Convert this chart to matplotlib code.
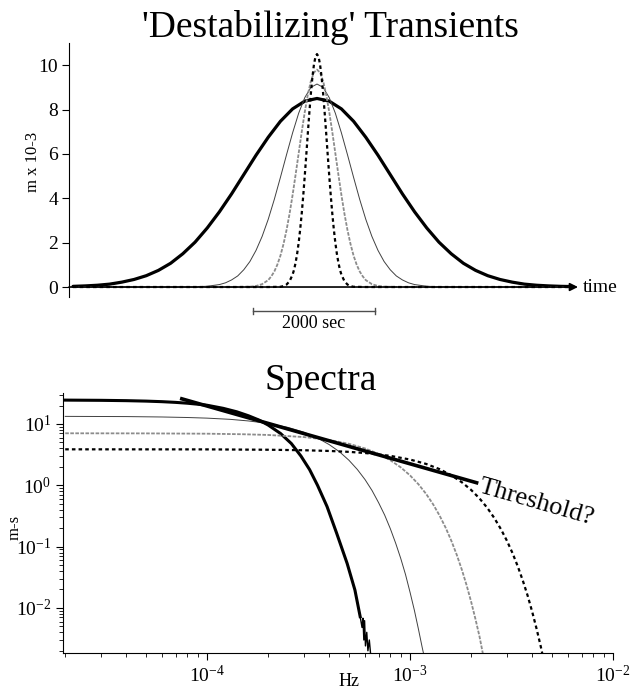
import matplotlib
matplotlib.use("Agg")
import matplotlib.pyplot as plt

plt.rcParams['font.family'] = ['Liberation Serif', 'DejaVu Serif']
plt.rcParams['mathtext.default'] = 'regular'

# --- transients (time in s, centred on the peak; m x 10^-3) ---
T_THICK = [-4000, -3800, -3600, -3400, -3200, -3000, -2800, -2600, -2400, -2200, -2000,
           -1800, -1600, -1400, -1200, -1000, -800, -600, -400, -200, 0,
           200, 400, 600, 800, 1000, 1200, 1400, 1600, 1800, 2000,
           2200, 2400, 2600, 2800, 3000, 3200, 3400, 3600, 3800, 4000, 4200]
M_THICK = [0.03, 0.05, 0.08, 0.13, 0.22, 0.34, 0.51, 0.75, 1.07, 1.50, 2.02,
           2.66, 3.39, 4.20, 5.07, 5.94, 6.75, 7.47, 8.03, 8.38, 8.50,
           8.38, 8.03, 7.47, 6.75, 5.94, 5.07, 4.20, 3.39, 2.66, 2.02,
           1.50, 1.07, 0.75, 0.51, 0.34, 0.22, 0.13, 0.08, 0.05, 0.03, 0.02]

T_THIN = [-4000, -2400, -2000, -1800, -1600, -1500, -1400, -1300, -1200, -1100, -1000,
          -900, -800, -700, -600, -500, -400, -300, -200, -100, 0,
          100, 200, 300, 400, 500, 600, 700, 800, 900, 1000,
          1100, 1200, 1300, 1400, 1500, 1600, 1800, 2000, 2400, 4200]
M_THIN = [0.0, 0.0, 0.01, 0.035, 0.11, 0.19, 0.32, 0.50, 0.78, 1.15, 1.65,
          2.28, 3.05, 3.95, 4.94, 5.96, 6.95, 7.84, 8.54, 9.00, 9.15,
          9.00, 8.54, 7.84, 6.95, 5.96, 4.94, 3.95, 3.05, 2.28, 1.65,
          1.15, 0.78, 0.50, 0.32, 0.19, 0.11, 0.035, 0.01, 0.0, 0.0]

T_GRAY = [-4000, -1400, -1100, -1000, -900, -800, -750, -700, -650, -600, -550,
          -500, -450, -400, -350, -300, -250, -200, -150, -100, -50, 0,
          50, 100, 150, 200, 250, 300, 350, 400, 450, 500,
          550, 600, 650, 700, 750, 800, 900, 1000, 1100, 1400, 4200]
M_GRAY = [0.0, 0.0, 0.015, 0.045, 0.13, 0.31, 0.48, 0.70, 1.01, 1.41, 1.93,
          2.56, 3.30, 4.15, 5.08, 6.04, 7.00, 7.90, 8.68, 9.29, 9.67, 9.80,
          9.67, 9.29, 8.68, 7.90, 7.00, 6.04, 5.08, 4.15, 3.30, 2.56,
          1.93, 1.41, 1.01, 0.70, 0.48, 0.31, 0.13, 0.045, 0.015, 0.0, 0.0]

T_DASH = [-4000, -800, -600, -550, -500, -450, -400, -375, -350, -325, -300, -275,
          -250, -225, -200, -175, -150, -125, -100, -75, -50, -25, 0,
          25, 50, 75, 100, 125, 150, 175, 200, 225, 250,
          275, 300, 325, 350, 375, 400, 450, 500, 550, 600, 800, 4200]
M_DASH = [0.0, 0.0, 0.01, 0.04, 0.11, 0.26, 0.56, 0.79, 1.11, 1.51, 2.01, 2.62,
          3.33, 4.14, 5.04, 5.98, 6.95, 7.88, 8.74, 9.47, 10.03, 10.38, 10.50,
          10.38, 10.03, 9.47, 8.74, 7.88, 6.95, 5.98, 5.04, 4.14, 3.33,
          2.62, 2.01, 1.51, 1.11, 0.79, 0.56, 0.26, 0.11, 0.04, 0.01, 0.0, 0.0]

SCALE_BAR = [-1050, 950]   # 2000 sec

# --- spectra (Hz, m-s) ---
F_THICK = [2.0e-5, 3.0e-5, 4.0e-5, 5.0e-5, 6.0e-5, 7.0e-5, 8.0e-5, 9.0e-5, 1.0e-4,
           1.2e-4, 1.4e-4, 1.6e-4, 1.8e-4, 2.0e-4, 2.3e-4, 2.6e-4, 2.9e-4, 3.2e-4,
           3.5e-4, 3.9e-4, 4.35e-4, 4.9e-4, 5.35e-4, 5.68e-4]
S_THICK = [24.5, 24.3, 24.0, 23.6, 23.1, 22.5, 21.8, 21.0, 20.2,
           18.0, 15.8, 13.6, 11.6, 9.6, 7.0, 4.8, 3.0, 1.8,
           1.0, 0.45, 0.165, 0.053, 0.0196, 0.0072]
# noisy tail of the thick spectrum near the floor
F_NOISE = [5.68e-4, 5.8e-4, 5.86e-4, 5.92e-4, 5.97e-4, 6.03e-4, 6.12e-4, 6.2e-4,
           6.3e-4, 6.4e-4]
S_NOISE = [0.0072, 0.0048, 0.0068, 0.0030, 0.0062, 0.0024, 0.0040, 0.0020,
           0.0030, 0.0017]

F_THIN = [2.0e-5, 4.0e-5, 6.0e-5, 8.0e-5, 1.0e-4, 1.3e-4, 1.6e-4, 2.0e-4, 2.5e-4,
          3.0e-4, 3.5e-4, 4.0e-4, 4.5e-4, 5.0e-4, 5.5e-4, 6.0e-4, 6.5e-4, 7.0e-4,
          7.5e-4, 8.0e-4, 8.5e-4, 9.0e-4, 9.5e-4, 1.0e-3, 1.05e-3, 1.1e-3, 1.15e-3, 1.17e-3]
S_THIN = [13.3, 13.2, 13.0, 12.75, 12.45, 11.9, 11.2, 10.2, 8.8,
          7.35, 5.9, 4.6, 3.5, 2.56, 1.81, 1.24, 0.82, 0.52,
          0.326, 0.195, 0.113, 0.064, 0.035, 0.018, 0.0092, 0.0045, 0.0022, 0.0017]

F_GRAY = [2.0e-5, 5.0e-5, 1.0e-4, 1.5e-4, 2.0e-4, 3.0e-4, 4.0e-4, 5.0e-4, 6.0e-4,
          7.0e-4, 8.0e-4, 9.0e-4, 1.0e-3, 1.1e-3, 1.2e-3, 1.3e-3, 1.4e-3, 1.5e-3,
          1.6e-3, 1.7e-3, 1.8e-3, 1.9e-3, 2.0e-3, 2.1e-3, 2.2e-3, 2.3e-3]
S_GRAY = [7.05, 7.02, 6.94, 6.80, 6.62, 6.12, 5.48, 4.75, 3.99,
          3.25, 2.56, 1.96, 1.45, 1.04, 0.724, 0.488, 0.318, 0.201,
          0.123, 0.073, 0.042, 0.0234, 0.0126, 0.0066, 0.0034, 0.0016]

F_DASH = [2.0e-5, 1.0e-4, 2.0e-4, 3.0e-4, 4.0e-4, 5.0e-4, 6.0e-4, 8.0e-4, 1.0e-3,
          1.2e-3, 1.4e-3, 1.6e-3, 1.8e-3, 2.0e-3, 2.2e-3, 2.4e-3, 2.6e-3, 2.8e-3,
          3.0e-3, 3.2e-3, 3.4e-3, 3.6e-3, 3.8e-3, 4.0e-3, 4.2e-3, 4.4e-3, 4.5e-3]
S_DASH = [3.86, 3.85, 3.80, 3.73, 3.63, 3.51, 3.36, 3.02, 2.63,
          2.23, 1.83, 1.45, 1.12, 0.84, 0.61, 0.43, 0.293, 0.194,
          0.125, 0.078, 0.047, 0.0275, 0.0157, 0.0086, 0.0046, 0.0024, 0.0017]

F_THR = [7.36e-5, 2.17e-3]
S_THR = [26.2, 1.08]

W, H = 639, 690
fig = plt.figure(figsize=(W / 100, H / 100), dpi=100)

DASHES = (0, (1.6, 1.4))

# top panel: transients
ax1 = fig.add_axes([69 / W, 1 - 297 / H, (578 - 69) / W, (297 - 43) / H])
ax1.plot(T_THICK, M_THICK, color='black', lw=2.3, solid_capstyle='round')
ax1.plot(T_THIN, M_THIN, color='0.25', lw=0.7)
ax1.plot(T_GRAY, M_GRAY, color='0.55', lw=1.3, ls=(0, (2, 0.8)))
ax1.plot(T_DASH, M_DASH, color='black', lw=1.6, ls=DASHES)
ax1.set_xlim(-4066, 4279)
ax1.set_ylim(-0.45, 11.0)
for s in ['top', 'right', 'bottom']:
    ax1.spines[s].set_visible(False)
ax1.set_xticks([])
ax1.set_yticks([0, 2, 4, 6, 8, 10])
ax1.tick_params(axis='y', direction='out', length=5, labelsize=14, pad=3)
ax1.annotate('', xy=(4279, 0), xytext=(-4066, 0), annotation_clip=False,
             arrowprops=dict(arrowstyle='-|>', color='black', lw=1.2,
                             mutation_scale=12, shrinkA=0, shrinkB=0))
ax1.text(4361, 0, 'time', ha='left', va='center', fontsize=14, clip_on=False)

# scale bar
ax1.plot(SCALE_BAR, [-1.08, -1.08], color='0.3', lw=1, clip_on=False)
for x in SCALE_BAR:
    ax1.plot([x, x], [-0.93, -1.23], color='0.3', lw=1, clip_on=False)
ax1.text(sum(SCALE_BAR) / 2, -1.85, '2000 sec', ha='center', va='baseline',
         fontsize=13, clip_on=False)

fig.text(33 / W, 1 - 162 / H, 'm x 10-3', rotation=90, ha='center', va='center',
         fontsize=12)
fig.text(330 / W, 1 - 37 / H, "'Destabilizing' Transients", ha='center',
         va='baseline', fontsize=27)

# bottom panel: spectra
ax2 = fig.add_axes([63 / W, 1 - 653 / H, (613 - 63) / W, (653 - 393) / H])
ax2.set_xscale('log')
ax2.set_yscale('log')
ax2.plot(F_THICK, S_THICK, color='black', lw=2.2)
ax2.plot(F_NOISE, S_NOISE, color='black', lw=1.0)
ax2.plot(F_THIN, S_THIN, color='0.25', lw=0.7)
ax2.plot(F_GRAY, S_GRAY, color='0.55', lw=1.3, ls=(0, (2, 0.8)))
ax2.plot(F_DASH, S_DASH, color='black', lw=1.6, ls=DASHES)
ax2.plot(F_THR, S_THR, color='black', lw=2.6, solid_capstyle='butt')
ax2.text(2.14e-3, 0.778, 'Threshold?', rotation=-16, rotation_mode='anchor',
         ha='left', va='baseline', fontsize=19, clip_on=False)
ax2.set_xlim(1.95e-5, 1e-2)
ax2.set_ylim(0.00184, 32)
for s in ['top', 'right']:
    ax2.spines[s].set_visible(False)
ax2.tick_params(which='major', direction='out', length=5, labelsize=14)
ax2.tick_params(which='minor', direction='out', length=3)

fig.text(349 / W, 1 - 682 / H, 'Hz', ha='center', va='center', fontsize=13)
fig.text(15 / W, 1 - 527 / H, 'm-s', rotation=90, ha='center', va='center',
         fontsize=12)
fig.text(321 / W, 1 - 390 / H, 'Spectra', ha='center', va='baseline', fontsize=27)

fig.savefig('out.png', dpi=100)
